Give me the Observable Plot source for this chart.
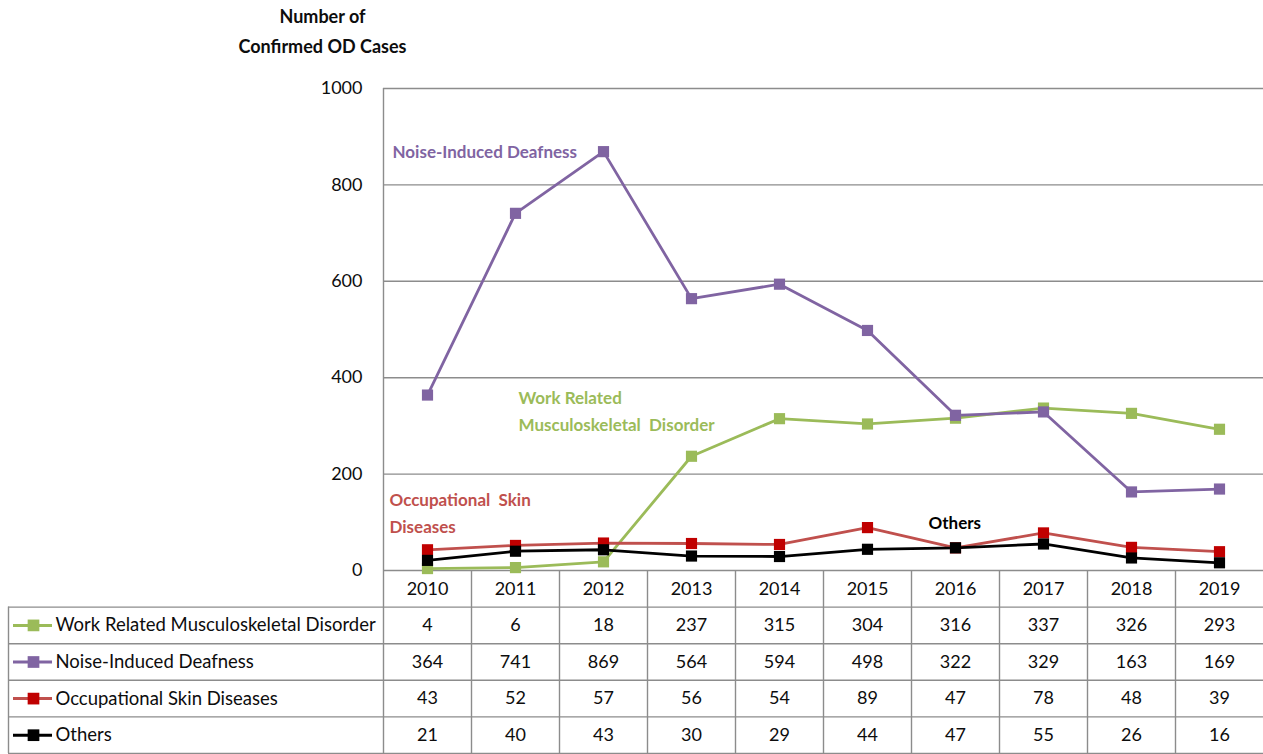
<!DOCTYPE html>
<html>
<head>
<meta charset="utf-8">
<script src="https://cdn.jsdelivr.net/npm/d3@7"></script>
<script src="https://cdn.jsdelivr.net/npm/@observablehq/plot@0.6"></script>
<style>
  html, body { margin: 0; padding: 0; background: #fff; }
  #chart svg { display: block; }
</style>
</head>
<body>
<div id="chart"></div>
<script>
// ---- data ----
const years = ["2010", "2011", "2012", "2013", "2014", "2015", "2016", "2017", "2018", "2019"];
const seriesNames = ["Work Related Musculoskeletal Disorder", "Noise-Induced Deafness", "Occupational Skin Diseases", "Others"];
const workRelated = [4, 6, 18, 237, 315, 304, 316, 337, 326, 293];
const noiseDeafness = [364, 741, 869, 564, 594, 498, 322, 329, 163, 169];
const skinDiseases = [43, 52, 57, 56, 54, 89, 47, 78, 48, 39];
const others = [21, 40, 43, 30, 29, 44, 47, 55, 26, 16];
const yTicks = [0, 200, 400, 600, 800, 1000];
const yTitleLines = ["Number of", "Confirmed OD Cases"];

// ---- styling ----
const valuesBySeries = [workRelated, noiseDeafness, skinDiseases, others];
const lineColors = ["#9BBB59", "#8064A2", "#C0504D", "#000000"];
const markerColors = ["#9BBB59", "#8064A2", "#C00000", "#000000"];
const gridColor = "#8c8c8c";
const textColor = "#0d0d0d";
const font = "Lato, 'Open Sans', sans-serif";

const W = 1263, H = 754, mL = 383, mT = 88, mB = 184;
const frameH = H - mT - mB;          // 482
const step = (W - mL) / years.length; // 88
const rowH = 36.6;

const long = [];
seriesNames.forEach((s, i) => years.forEach((y, j) => long.push({series: s, idx: i, year: y, value: valuesBySeries[i][j]})));

const marks = [];

// grid + frame
marks.push(Plot.ruleY(yTicks, {stroke: gridColor, strokeWidth: 1.4}));
marks.push(Plot.axisY({ticks: yTicks, tickFormat: d => String(d), tickSize: 0, tickPadding: 21, fontSize: 18, label: null, fill: textColor}));
// left vertical line (axis + table)
marks.push(Plot.ruleX([years[0]], {x: d => d, dx: -step / 2, stroke: gridColor, strokeWidth: 1.4, insetBottom: -(mB - 1)}));
// table column separators
marks.push(Plot.ruleX(years.slice(1), {x: d => d, dx: -step / 2, stroke: gridColor, strokeWidth: 1.4, insetTop: frameH, insetBottom: -(mB - 1)}));
// table left border
marks.push(Plot.ruleX([years[0]], {x: d => d, dx: 8 - (mL + step / 2), stroke: gridColor, strokeWidth: 1.4, insetTop: frameH + rowH, insetBottom: -(mB - 1)}));
// table horizontal lines
for (let k = 1; k <= 5; k++) {
  marks.push(Plot.ruleY([0], {dy: k * rowH, stroke: gridColor, strokeWidth: 1.4, insetLeft: 8 - mL}));
}

// header years
marks.push(Plot.text(years, {x: d => d, frameAnchor: "bottom", lineAnchor: "middle", dy: rowH / 2, fontSize: 18, fill: textColor, text: d => d}));

// series lines and markers
const drawOrder = [0, 1, 2, 3];
drawOrder.forEach(i => {
  const data = long.filter(d => d.idx === i);
  marks.push(Plot.line(data, {x: "year", y: "value", stroke: lineColors[i], strokeWidth: 2.8}));
});
drawOrder.forEach(i => {
  const data = long.filter(d => d.idx === i);
  marks.push(Plot.dot(data, {x: "year", y: "value", symbol: "square", r: 6.3, fill: markerColors[i], stroke: "none"}));
});

// table rows: legend swatch, name, values
seriesNames.forEach((s, i) => {
  const cy = rowH * (i + 1) + rowH / 2;
  marks.push(Plot.ruleY([0], {dy: cy, stroke: lineColors[i], strokeWidth: 3, insetLeft: 13 - mL, insetRight: W - 52}));
  marks.push(Plot.dot([s], {x: () => years[0], y: () => 0, dx: 33 - (mL + step / 2), dy: cy, symbol: "square", r: 6.6, fill: markerColors[i], stroke: "none"}));
  marks.push(Plot.text([s], {x: () => years[0], y: () => 0, dx: 55 - (mL + step / 2), dy: cy, text: d => d, textAnchor: "start", lineAnchor: "middle", fontSize: 18.5, fill: textColor}));
  marks.push(Plot.text(long.filter(d => d.idx === i), {x: "year", text: d => String(d.value), frameAnchor: "bottom", lineAnchor: "middle", dy: cy, fontSize: 18, fill: textColor}));
});

// y axis title (two lines)
yTitleLines.forEach((t, k) => {
  marks.push(Plot.text([t], {frameAnchor: "top-left", dx: 322 - mL, dy: 17 + k * 30 - mT, text: d => d, textAnchor: "middle", lineAnchor: "middle", fontSize: 18, fontWeight: "bold", fill: textColor}));
});

// series annotations (one text mark per line)
const notes = [
  {lines: ["Noise-Induced Deafness"], px: 392, py: 152, color: lineColors[1]},
  {lines: ["Work Related", "Musculoskeletal  Disorder"], px: 518, py: 398, color: lineColors[0]},
  {lines: ["Occupational  Skin", "Diseases"], px: 389, py: 500, color: lineColors[2]},
  {lines: ["Others"], px: 928, py: 523, color: "#000"}
];
notes.forEach(n => {
  n.lines.forEach((t, k) => {
    marks.push(Plot.text([t], {frameAnchor: "top-left", dx: n.px - mL, dy: n.py + k * 27.5 - mT, text: d => d, textAnchor: "start", lineAnchor: "middle", fontSize: 17, fontWeight: "bold", fill: n.color}));
  });
});

const chart = Plot.plot({
  width: W,
  height: H,
  marginLeft: mL,
  marginRight: 0,
  marginTop: mT,
  marginBottom: mB,
  style: {fontFamily: font, fontSize: "16px", background: "#fff", overflow: "visible"},
  x: {type: "point", domain: years, padding: 0.5, axis: null},
  y: {domain: [0, 1000], axis: null},
  marks
});
document.getElementById("chart").appendChild(chart);
</script>
</body>
</html>
